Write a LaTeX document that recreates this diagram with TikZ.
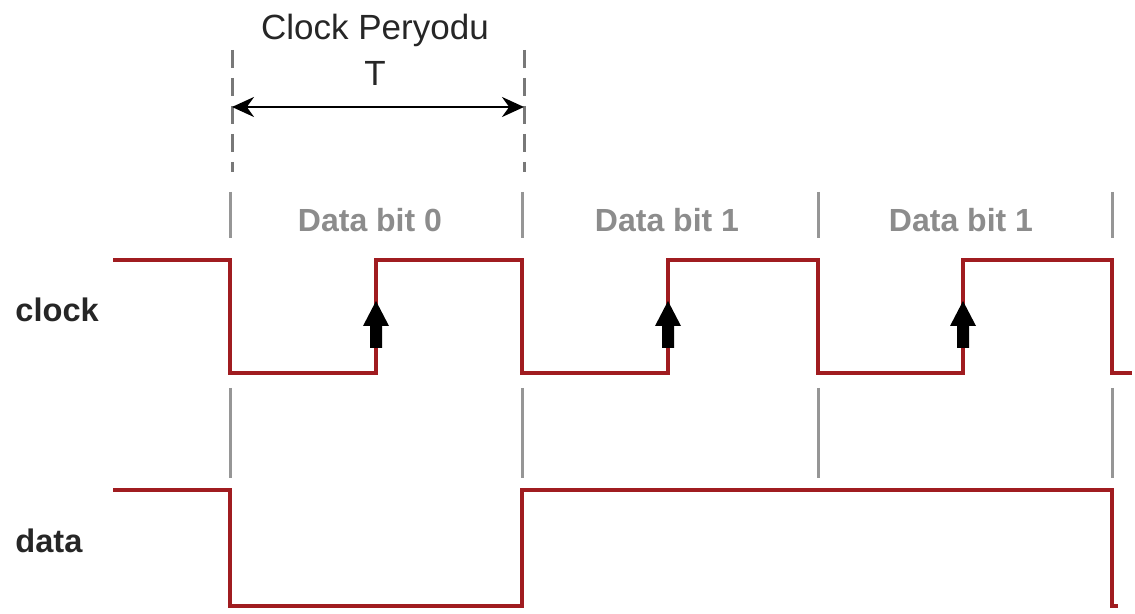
\documentclass[tikz,border=0pt]{standalone}
\usepackage{fontspec}
\setmainfont{Liberation Sans}
\usetikzlibrary{arrows.meta}
\definecolor{wave}{RGB}{160,28,32}
\definecolor{sep}{RGB}{150,150,150}
\definecolor{lbl}{RGB}{140,140,140}
\tikzset{
  wavestyle/.style={draw=wave, line width=2pt, line join=miter},
  sepline/.style={draw=sep, line width=1.5pt},
  dashline/.style={draw=sep!80!black, line width=1.5pt, dash pattern=on 9pt off 5pt},
  bitlabel/.style={font=\fontsize{16}{18}\selectfont\bfseries, text=lbl, anchor=base, inner sep=0pt},
  siglabel/.style={font=\fontsize{16.3}{18}\selectfont\bfseries, text=black!85, anchor=base west, inner sep=0pt},
  titlelabel/.style={font=\fontsize{17.5}{20}\selectfont, text=black!85, anchor=base, inner sep=0pt},
  edgearrow/.style={fill=black, draw=none},
  periodarrow/.style={line width=1.3pt, {Stealth[length=11pt,width=10pt]}-{Stealth[length=11pt,width=10pt]}},
}
\begin{document}
\begin{tikzpicture}[x=0.5pt,y=-0.5pt]
\useasboundingbox (0,0) rectangle (1135,614);
% title
\node[titlelabel] (title) at (375,40) {Clock Peryodu};
\node[titlelabel] (tlabel) at (375,86) {T};
% dashed period markers
\coordinate (dL1) at (232,50); \coordinate (dL2) at (232,172);
\coordinate (dR1) at (524,50); \coordinate (dR2) at (524,172);
\draw[dashline] (dL1) -- (dL2);
\draw[dashline] (dR1) -- (dR2);
\coordinate (aL) at (232,107); \coordinate (aR) at (524,107);
\draw[periodarrow] (aL) -- (aR);
% separators
\foreach \x/\n in {230/a,522/b,818/c,1112/d}{
  \coordinate (st\n) at (\x,192); \coordinate (sb\n) at (\x,238);
  \coordinate (mt\n) at (\x,388); \coordinate (mb\n) at (\x,478);
  \draw[sepline] (st\n) -- (sb\n);
  \draw[sepline] (mt\n) -- (mb\n);
}
% bit labels
\node[bitlabel] (bit0) at (370,232) {Data bit 0};
\node[bitlabel] (bit1) at (667,232) {Data bit 1};
\node[bitlabel] (bit2) at (961,232) {Data bit 1};
% signal labels
\node[siglabel] (clk) at (15,322) {clock};
\node[siglabel] (dat) at (15,552) {data};
% clock waveform
\draw[wavestyle] (113,260) -- (230,260) -- (230,373) -- (376,373) -- (376,260) -- (522,260) -- (522,373) -- (668,373) -- (668,260) -- (818,260) -- (818,373) -- (963,373) -- (963,260) -- (1112,260) -- (1112,373) -- (1132,373);
% data waveform
\draw[wavestyle] (113,490) -- (230,490) -- (230,606) -- (522,606) -- (522,490) -- (1112,490) -- (1112,606) -- (1118,606);
% rising edge arrows
\foreach \x in {376,668,963}{
  \fill[edgearrow] (\x-6,348) -- (\x-6,326) -- (\x-13,326) -- (\x,301) -- (\x+13,326) -- (\x+6,326) -- (\x+6,348) -- cycle;
}
\end{tikzpicture}
\end{document}
